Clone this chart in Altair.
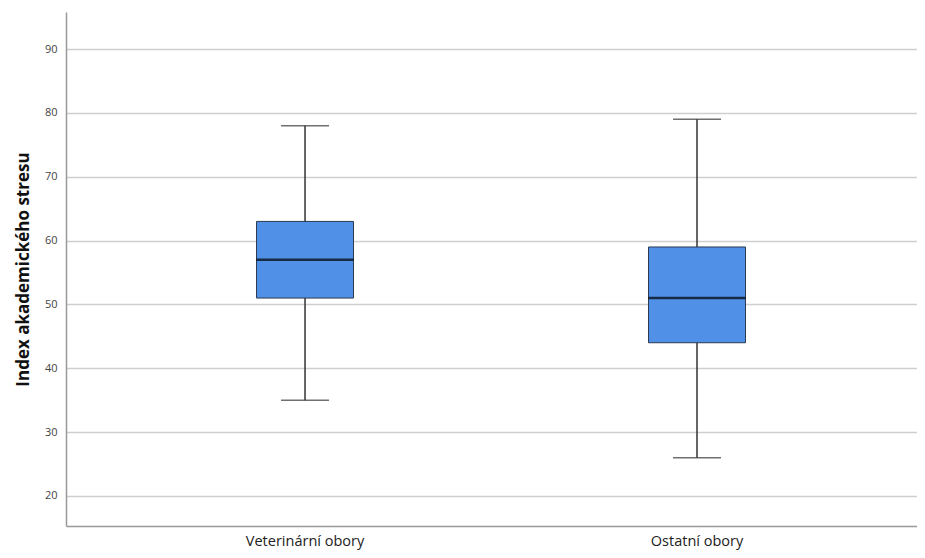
import altair as alt
import pandas as pd

categories = ["Veterinární obory", "Ostatní obory"]
mins = [35, 26]
q1s = [51, 44]
medians = [57, 51]
q3s = [63, 59]
maxs = [78, 79]
y_ticks = [20, 30, 40, 50, 60, 70, 80, 90]

df = pd.DataFrame({"cat": categories, "lo": mins, "q1": q1s, "med": medians,
                   "q3": q3s, "hi": maxs})

FONT = "Open Sans"
xenc = alt.X("cat:N", sort=categories, title=None,
             scale=alt.Scale(paddingInner=0, paddingOuter=0.0855, align=0.642),
             axis=alt.Axis(labelAngle=0, labelFontSize=14.5, labelColor="#222",
                           labelFont=FONT, ticks=False, grid=False, labelPadding=8,
                           domainColor="#999", domainWidth=1.5))
yscale = alt.Scale(domain=[15.3, 95.8], nice=False, zero=False)
yaxis = alt.Axis(values=y_ticks, title="Index akademického stresu", titleFontSize=17,
                 titleFontWeight="bold", titleColor="#111", titleFont=FONT,
                 labelFontSize=11, labelColor="#444", labelFont=FONT, ticks=False,
                 labelPadding=9, titlePadding=12, grid=True, gridColor="#cfcfcf",
                 gridWidth=1.5, domainColor="#999", domainWidth=1.5)

base = alt.Chart(df)
whisk = base.mark_rule(color="#333", strokeWidth=1.5).encode(
    x=xenc, y=alt.Y("lo:Q", scale=yscale, axis=yaxis), y2="hi:Q")
box = base.mark_bar(size=97, color="#5090e6", stroke="#2b3a4f", strokeWidth=1).encode(
    x=alt.X("cat:N", sort=categories), y=alt.Y("q1:Q"), y2="q3:Q")
med = base.mark_tick(size=97, thickness=2.5, color="#000").encode(
    x=alt.X("cat:N", sort=categories), y="med:Q")
cap_lo = base.mark_tick(size=48, thickness=1.5, color="#333").encode(
    x=alt.X("cat:N", sort=categories), y="lo:Q")
cap_hi = base.mark_tick(size=48, thickness=1.5, color="#333").encode(
    x=alt.X("cat:N", sort=categories), y="hi:Q")

chart = alt.layer(whisk, box, med, cap_lo, cap_hi).properties(
    width=851, height=514,
    background="white",
    autosize=alt.AutoSizeParams(type="none"),
    padding={"left": 58, "top": 4, "right": 0, "bottom": 24},
).configure_view(stroke=None)

chart.save("out.html", embed_options={"renderer": "svg", "actions": False})
